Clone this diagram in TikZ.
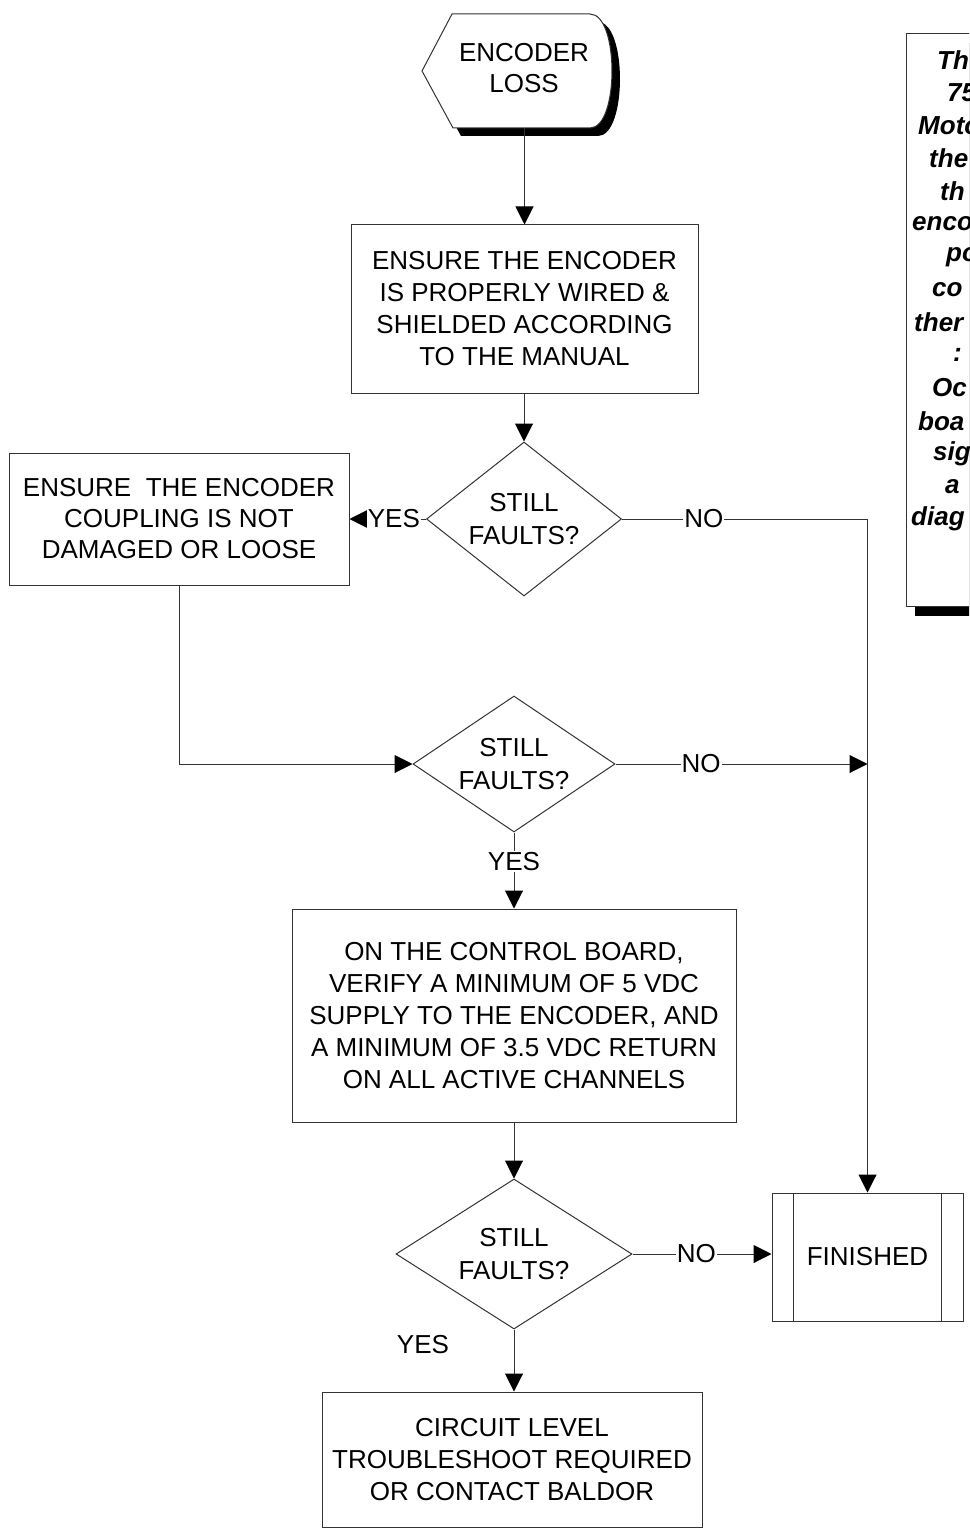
\documentclass[tikz,border=0pt]{standalone}
\usepackage{fontspec}
\setmainfont{Liberation Sans}
\usetikzlibrary{arrows.meta,shapes.geometric}
\begin{document}
\begin{tikzpicture}[x=1pt,y=-1pt,
  line/.style={draw=black!80, line width=1pt},
  arr/.style={line, -{Triangle[length=18pt,width=18pt,fill=black,color=black]}},
  box/.style={draw=black!80, line width=1pt, fill=white, rectangle, inner sep=0pt, align=center, font=\fontsize{26}{32}\selectfont},
  dia/.style={draw=black!80, line width=1pt, diamond, inner sep=0pt, fill=white},
  txt/.style={align=center, font=\fontsize{26}{32}\selectfont, inner sep=0pt},
  lbl/.style={fill=white, inner sep=1pt, font=\fontsize{26}{30}\selectfont},
  notetxt/.style={anchor=west, inner sep=0pt, font=\fontsize{26}{30}\selectfont\bfseries\itshape},
]
\useasboundingbox (0,0) rectangle (969,1530);
\clip (0,0) rectangle (969,1530);

% start terminator
\node[minimum width=190pt, minimum height=114pt, inner sep=0pt] (start) at (517,71) {};
\begin{scope}[shift={(8,8)}]
\fill[black] (422,71) -- (452,14) -- (590,14) .. controls (619.3,14) and (619.3,128) .. (590,128) -- (453,128) -- cycle;
\end{scope}
\filldraw[fill=white, draw=black!80, line width=1pt] (422,71) -- (452,14) -- (590,14) .. controls (619.3,14) and (619.3,128) .. (590,128) -- (453,128) -- cycle;
\node[txt, font=\fontsize{26}{31}\selectfont] (starttext) at (524,68) {ENCODER\\LOSS};

% boxes
\node[box, minimum width=347pt, minimum height=168pt] (b1) at (524.5,309) {ENSURE THE ENCODER\\IS PROPERLY WIRED \&\\SHIELDED ACCORDING\\TO THE MANUAL};
\node[box, minimum width=340pt, minimum height=132pt, font=\fontsize{26}{31}\selectfont] (b2) at (179,519) {ENSURE\ \ THE ENCODER\\COUPLING IS NOT\\DAMAGED OR LOOSE};
\node[box, minimum width=444pt, minimum height=213pt] (b3) at (514,1015.5) {ON THE CONTROL BOARD,\\VERIFY A MINIMUM OF 5 VDC\\SUPPLY TO THE ENCODER, AND\\A MINIMUM OF 3.5 VDC RETURN\\ON ALL ACTIVE CHANNELS};
\node[box, minimum width=380pt, minimum height=135pt] (b4) at (512,1459.5) {CIRCUIT LEVEL\\TROUBLESHOOT REQUIRED\\OR CONTACT BALDOR};
\node[box, minimum width=191pt, minimum height=128pt] (fin) at (867.5,1257) {FINISHED};
\draw[line] ([xshift=22pt]fin.north west) -- ([xshift=22pt]fin.south west);
\draw[line] ([xshift=-22pt]fin.north east) -- ([xshift=-22pt]fin.south east);

% decisions
\node[dia, minimum width=195pt, minimum height=154pt] (d1) at (524,519) {};
\node[txt, font=\fontsize{26}{33}\selectfont] (d1t) at (d1) {STILL\\FAULTS?};
\node[dia, minimum width=202pt, minimum height=136pt] (d2) at (514,764) {};
\node[txt, font=\fontsize{26}{33}\selectfont] (d2t) at (d2) {STILL\\FAULTS?};
\node[dia, minimum width=236pt, minimum height=150pt] (d3) at (514,1254) {};
\node[txt, font=\fontsize{26}{33}\selectfont] (d3t) at (d3) {STILL\\FAULTS?};

% connectors
\draw[arr] (start.south -| b1.north) -- (b1.north);
\draw[arr] (b1.south -| d1.north) -- (d1.north);
\draw[arr] (d1.west) -- node[lbl, pos=0.42] {YES} (b2.east);
\coordinate (c1) at (d1.east -| fin.north);
\draw[arr] (d1.east) -- node[lbl, pos=0.333] {NO} (c1) -- (fin.north);
\draw[arr] (b2.south) |- (d2.west);
\draw[arr] (d2.east) -- node[lbl, pos=0.34] {NO} (d2.east -| fin.north);
\draw[arr] (d2.south) -- node[lbl, pos=0.38] {YES} (d2.south |- b3.north);
\draw[arr] (b3.south -| d3.north) -- (d3.north);
\draw[arr] (d3.east) -- node[lbl, pos=0.46] {NO} (d3.east -| fin.west);
\draw[arr] (d3.south) -- (d3.south |- b4.north);
\node[txt] (yes3) at (423,1345) {YES};

% note (cut off at the right edge, as in the reference)
\node[fill=black, minimum width=130pt, minimum height=573pt, anchor=north west, inner sep=0pt] (noteshadow) at (915,43) {};
\node[draw=black!80, fill=white, line width=1pt, minimum width=130pt, minimum height=573pt, anchor=north west, inner sep=0pt] (note) at (906,33) {};
\foreach \xx/\ww [count=\i] in {937/Th, 947/75, 918/Moto, 929/the, 940/th, 912/enco, 946/po, 932/co, 914/ther, 953/:, 932/Oc, 918/boa, 933/sig, 945/a, 911/diag}
  \node[notetxt] (n\i) at (\xx, {60+32.8*(\i-1)}) {\ww};
\end{tikzpicture}
\end{document}
